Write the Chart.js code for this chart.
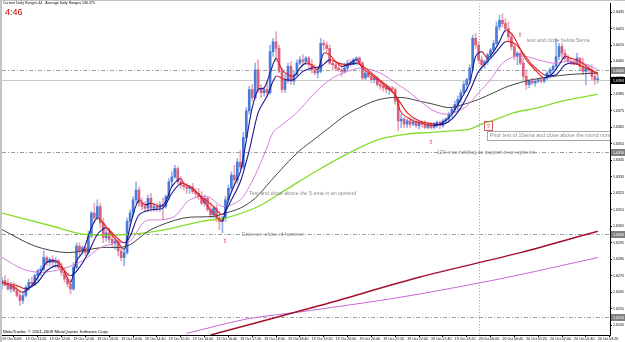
<!DOCTYPE html>
<html>
<head>
<meta charset="utf-8">
<script src="https://cdn.jsdelivr.net/npm/chart.js@4.4.1/dist/chart.umd.min.js"></script>
<style>
  html, body { margin: 0; padding: 0; background: #fff; }
  canvas { display: block; }
</style>
</head>
<body>
<canvas id="chart" width="625" height="342"></canvas>
<script>
// GBPUSD M5, bars 0..200 = 19 Oct 2009 10:40 -> 20 Oct 2009 03:20
const opens = [
  1.6270,1.6272,1.6269,1.6267,1.6269,1.6266,1.6263,1.6260,1.6263,1.6268,
  1.6271,1.6270,1.6275,1.6278,1.6279,1.6286,1.6283,1.6285,1.6283,1.6284,
  1.6280,1.6277,1.6273,1.6270,1.6267,1.6280,1.6293,1.6290,1.6292,1.6289,
  1.6299,1.6313,1.6310,1.6317,1.6307,1.6298,1.6301,1.6297,1.6295,1.6296,
  1.6290,1.6286,1.6289,1.6308,1.6313,1.6321,1.6327,1.6319,1.6317,1.6316,
  1.6322,1.6316,1.6317,1.6316,1.6318,1.6317,1.6323,1.6332,1.6335,1.6340,
  1.6332,1.6330,1.6329,1.6328,1.6329,1.6326,1.6325,1.6323,1.6319,1.6322,
  1.6315,1.6312,1.6316,1.6310,1.6308,1.6310,1.6321,1.6328,1.6336,1.6333,
  1.6344,1.6341,1.6359,1.6375,1.6388,1.6383,1.6400,1.6388,1.6386,1.6388,
  1.6386,1.6411,1.6417,1.6413,1.6399,1.6388,1.6394,1.6402,1.6393,1.6397,
  1.6404,1.6406,1.6405,1.6407,1.6403,1.6400,1.6398,1.6399,1.6416,1.6415,
  1.6413,1.6404,1.6403,1.6401,1.6400,1.6399,1.6401,1.6404,1.6403,1.6406,
  1.6407,1.6404,1.6395,1.6398,1.6396,1.6394,1.6395,1.6391,1.6390,1.6389,
  1.6388,1.6389,1.6388,1.6381,1.6369,1.6370,1.6367,1.6369,1.6367,1.6368,
  1.6366,1.6368,1.6367,1.6365,1.6367,1.6365,1.6367,1.6368,1.6366,1.6369,
  1.6370,1.6373,1.6376,1.6379,1.6382,1.6386,1.6391,1.6394,1.6401,1.6419,
  1.6415,1.6406,1.6403,1.6405,1.6409,1.6412,1.6416,1.6426,1.6430,1.6428,
  1.6425,1.6420,1.6414,1.6408,1.6410,1.6404,1.6396,1.6391,1.6393,1.6392,
  1.6393,1.6394,1.6393,1.6395,1.6398,1.6400,1.6402,1.6408,1.6414,1.6410,
  1.6407,1.6405,1.6404,1.6403,1.6407,1.6402,1.6399,1.6401,1.6400,1.6396,
  1.6394
];
const highs = [
  1.6274,1.6275,1.6273,1.6271,1.6271,1.6269,1.6266,1.6265,1.6269,1.6273,
  1.6274,1.6276,1.6279,1.6281,1.6290,1.6287,1.6286,1.6287,1.6286,1.6285,
  1.6283,1.6280,1.6276,1.6273,1.6283,1.6295,1.6295,1.6293,1.6293,1.6302,
  1.6314,1.6319,1.6321,1.6319,1.6310,1.6303,1.6304,1.6299,1.6298,1.6297,
  1.6292,1.6291,1.6310,1.6315,1.6323,1.6332,1.6329,1.6322,1.6320,1.6324,
  1.6325,1.6319,1.6319,1.6320,1.6322,1.6324,1.6334,1.6338,1.6342,1.6341,
  1.6335,1.6332,1.6331,1.6330,1.6331,1.6328,1.6328,1.6326,1.6324,1.6323,
  1.6319,1.6317,1.6318,1.6314,1.6311,1.6323,1.6330,1.6338,1.6342,1.6346,
  1.6351,1.6362,1.6377,1.6390,1.6391,1.6404,1.6406,1.6391,1.6389,1.6392,
  1.6415,1.6419,1.6423,1.6415,1.6401,1.6397,1.6404,1.6405,1.6399,1.6406,
  1.6408,1.6409,1.6408,1.6408,1.6406,1.6403,1.6401,1.6419,1.6418,1.6417,
  1.6415,1.6406,1.6405,1.6404,1.6403,1.6404,1.6406,1.6406,1.6407,1.6408,
  1.6408,1.6405,1.6400,1.6400,1.6398,1.6396,1.6396,1.6393,1.6392,1.6391,
  1.6390,1.6390,1.6389,1.6383,1.6373,1.6371,1.6370,1.6371,1.6370,1.6370,
  1.6369,1.6369,1.6369,1.6368,1.6368,1.6368,1.6369,1.6369,1.6370,1.6371,
  1.6374,1.6377,1.6381,1.6384,1.6388,1.6393,1.6395,1.6403,1.6421,1.6422,
  1.6417,1.6408,1.6406,1.6410,1.6413,1.6418,1.6429,1.6433,1.6434,1.6431,
  1.6429,1.6422,1.6416,1.6411,1.6411,1.6407,1.6399,1.6394,1.6395,1.6394,
  1.6395,1.6395,1.6395,1.6399,1.6401,1.6403,1.6419,1.6416,1.6416,1.6412,
  1.6409,1.6407,1.6406,1.6410,1.6407,1.6407,1.6403,1.6403,1.6403,1.6398,
  1.6397
];
const lows = [
  1.6267,1.6269,1.6266,1.6265,1.6265,1.6262,1.6257,1.6258,1.6262,1.6266,
  1.6268,1.6269,1.6272,1.6275,1.6278,1.6281,1.6281,1.6281,1.6280,1.6279,
  1.6275,1.6271,1.6268,1.6264,1.6266,1.6279,1.6287,1.6288,1.6287,1.6288,
  1.6298,1.6307,1.6309,1.6304,1.6295,1.6296,1.6295,1.6292,1.6291,1.6287,
  1.6284,1.6281,1.6288,1.6305,1.6311,1.6319,1.6317,1.6315,1.6314,1.6314,
  1.6314,1.6314,1.6314,1.6314,1.6309,1.6316,1.6321,1.6329,1.6334,1.6331,
  1.6328,1.6327,1.6325,1.6325,1.6325,1.6323,1.6321,1.6318,1.6317,1.6314,
  1.6310,1.6310,1.6308,1.6303,1.6301,1.6308,1.6319,1.6326,1.6330,1.6331,
  1.6339,1.6340,1.6358,1.6373,1.6381,1.6382,1.6386,1.6383,1.6384,1.6384,
  1.6385,1.6408,1.6405,1.6398,1.6386,1.6386,1.6392,1.6391,1.6391,1.6396,
  1.6403,1.6403,1.6403,1.6401,1.6398,1.6397,1.6395,1.6398,1.6412,1.6411,
  1.6403,1.6400,1.6400,1.6399,1.6396,1.6398,1.6400,1.6402,1.6403,1.6403,
  1.6403,1.6394,1.6394,1.6395,1.6392,1.6392,1.6390,1.6388,1.6387,1.6386,
  1.6385,1.6386,1.6379,1.6363,1.6365,1.6365,1.6365,1.6365,1.6366,1.6365,
  1.6364,1.6365,1.6364,1.6364,1.6364,1.6364,1.6365,1.6364,1.6365,1.6367,
  1.6368,1.6371,1.6374,1.6375,1.6380,1.6385,1.6387,1.6392,1.6400,1.6413,
  1.6404,1.6401,1.6401,1.6403,1.6407,1.6410,1.6415,1.6424,1.6426,1.6423,
  1.6418,1.6412,1.6406,1.6403,1.6403,1.6394,1.6388,1.6389,1.6391,1.6390,
  1.6392,1.6392,1.6392,1.6394,1.6395,1.6398,1.6400,1.6406,1.6407,1.6405,
  1.6404,1.6403,1.6403,1.6403,1.6400,1.6397,1.6391,1.6398,1.6394,1.6391,
  1.6392
];
const closes = [
  1.6272,1.6269,1.6267,1.6269,1.6266,1.6263,1.6260,1.6263,1.6268,1.6271,
  1.6270,1.6275,1.6278,1.6279,1.6286,1.6283,1.6285,1.6283,1.6284,1.6280,
  1.6277,1.6273,1.6270,1.6267,1.6280,1.6293,1.6290,1.6292,1.6289,1.6299,
  1.6313,1.6310,1.6317,1.6307,1.6298,1.6301,1.6297,1.6295,1.6296,1.6290,
  1.6286,1.6289,1.6308,1.6313,1.6321,1.6327,1.6319,1.6317,1.6316,1.6322,
  1.6316,1.6317,1.6316,1.6318,1.6317,1.6323,1.6332,1.6335,1.6340,1.6332,
  1.6330,1.6329,1.6328,1.6329,1.6326,1.6325,1.6323,1.6319,1.6322,1.6315,
  1.6312,1.6316,1.6310,1.6308,1.6310,1.6321,1.6328,1.6336,1.6333,1.6344,
  1.6341,1.6359,1.6375,1.6388,1.6383,1.6400,1.6388,1.6386,1.6388,1.6386,
  1.6411,1.6417,1.6413,1.6399,1.6388,1.6394,1.6402,1.6393,1.6397,1.6404,
  1.6406,1.6405,1.6407,1.6403,1.6400,1.6398,1.6399,1.6416,1.6415,1.6413,
  1.6404,1.6403,1.6401,1.6400,1.6399,1.6401,1.6404,1.6403,1.6406,1.6407,
  1.6404,1.6395,1.6398,1.6396,1.6394,1.6395,1.6391,1.6390,1.6389,1.6388,
  1.6389,1.6388,1.6381,1.6369,1.6370,1.6367,1.6369,1.6367,1.6368,1.6366,
  1.6368,1.6367,1.6365,1.6367,1.6365,1.6367,1.6368,1.6366,1.6369,1.6370,
  1.6373,1.6376,1.6379,1.6382,1.6386,1.6391,1.6394,1.6401,1.6419,1.6415,
  1.6406,1.6403,1.6405,1.6409,1.6412,1.6416,1.6426,1.6430,1.6428,1.6425,
  1.6420,1.6414,1.6408,1.6410,1.6404,1.6396,1.6391,1.6393,1.6392,1.6393,
  1.6394,1.6393,1.6395,1.6398,1.6400,1.6402,1.6408,1.6414,1.6410,1.6407,
  1.6405,1.6404,1.6403,1.6407,1.6402,1.6399,1.6401,1.6400,1.6396,1.6394,
  1.6394
];

// moving averages (bar index, value)
const ema5Idx = [0,4,7,10,13,15,18,20,23,25,27,30,32,34,36,39,41,42,44,46,48,50,53,55,57,60,61,64,67,70,73,74,76,78,80,82,84,86,88,90,92,94,96,98,100,102,104,106,108,110,112,114,116,119,121,124,128,130,132,134,138,140,145,148,151,154,157,159,161,163,165,167,169,171,173,176,180,182,185,187,189,191,194,197,200];
const ema5 = [1.6271,1.6268,1.6265,1.6269,1.6277,1.6283,1.6284,1.6281,1.6271,1.6284,1.6289,1.6304,1.6310,1.6307,1.6302,1.6295,1.6291,1.6297,1.6312,1.6321,1.6318,1.6319,1.6317,1.6320,1.6329,1.6334,1.6331,1.6328,1.6322,1.6315,1.6309,1.6308,1.6321,1.6330,1.6338,1.6357,1.6377,1.6388,1.6389,1.6398,1.6407,1.6400,1.6397,1.6396,1.6401,1.6404,1.6403,1.6400,1.6410,1.6409,1.6405,1.6402,1.6403,1.6406,1.6401,1.6397,1.6391,1.6388,1.6385,1.6374,1.6369,1.6368,1.6366,1.6368,1.6373,1.6382,1.6392,1.6408,1.6411,1.6407,1.6411,1.6417,1.6424,1.6422,1.6416,1.6406,1.6398,1.6395,1.6398,1.6403,1.6408,1.6407,1.6405,1.6401,1.6397];
const ema10Idx = [0,5,8,12,15,19,23,26,29,32,35,38,41,43,46,50,54,57,60,63,67,71,74,77,80,83,86,89,92,95,98,101,104,107,110,113,116,119,122,126,130,133,136,140,145,148,151,154,157,160,163,166,169,172,175,178,182,186,189,192,196,200];
const ema10 = [1.6271,1.6269,1.6267,1.6271,1.6278,1.6281,1.6275,1.6280,1.6289,1.6300,1.6304,1.6299,1.6295,1.6299,1.6312,1.6315,1.6316,1.6325,1.6331,1.6329,1.6323,1.6317,1.6312,1.6321,1.6332,1.6351,1.6374,1.6384,1.6396,1.6394,1.6394,1.6399,1.6401,1.6402,1.6406,1.6404,1.6403,1.6404,1.6401,1.6395,1.6389,1.6382,1.6374,1.6369,1.6367,1.6367,1.6370,1.6377,1.6387,1.6399,1.6405,1.6411,1.6417,1.6416,1.6410,1.6403,1.6397,1.6397,1.6403,1.6404,1.6401,1.6398];
const ma21Idx = [0,7,13,20,27,33,39,43,48,54,58,63,69,74,80,83,86,89,91,95,99,104,108,112,116,120,124,128,133,137,141,145,149,153,156,160,164,168,172,176,180,185,190,195,200];
const ma21 = [1.6286,1.6279,1.6277,1.6279,1.6284,1.6292,1.6295,1.6296,1.6308,1.6309,1.6311,1.6321,1.6323,1.6317,1.6321,1.6329,1.6340,1.6353,1.6362,1.6368,1.6374,1.6384,1.6391,1.6396,1.6399,1.6401,1.6400,1.6397,1.6391,1.6386,1.6380,1.6375,1.6373,1.6375,1.6378,1.6386,1.6394,1.6404,1.6408,1.6408,1.6406,1.6404,1.6405,1.6404,1.6400];
const ma60Idx = [0,11,22,33,42,50,61,71,75,80,85,90,95,100,105,110,115,120,125,130,135,140,145,150,155,160,165,170,178,190,200];
const ma60 = [1.6303,1.6293,1.6289,1.6292,1.6293,1.6303,1.6310,1.6311,1.6313,1.6316,1.6322,1.6332,1.6342,1.6351,1.6358,1.6365,1.6372,1.6377,1.6381,1.6383,1.6383,1.6381,1.6379,1.6377,1.6379,1.6382,1.6386,1.6390,1.6394,1.6397,1.6398];
const ma120Idx = [0,17,28,42,55,67,75,86,96,106,117,127,136,144,152,157,161,166,172,180,188,200];
const ma120 = [1.6313,1.6305,1.6300,1.6300,1.6303,1.6308,1.6310,1.6317,1.6328,1.6339,1.6350,1.6358,1.6361,1.6362,1.6363,1.6364,1.6367,1.6370,1.6374,1.6377,1.6381,1.6385];
const ma200Idx = [70,107,140,174,200];
const ma200 = [1.6239,1.6257,1.6274,1.6289,1.6302];
const ma365Idx = [62,83,100,134,167,200];
const ma365 = [1.6240,1.6249,1.6253,1.6262,1.6273,1.6286];

const priceTicks = [1.6245,1.6255,1.6265,1.6275,1.6285,1.6295,1.6305,1.6315,1.6325,1.6335,1.6345,1.6355,1.6365,1.6375,1.6385,1.6395,1.6405,1.6415,1.6425,1.6435];
const timeTicks = [0,8,16,24,32,40,48,56,64,72,80,88,96,104,112,120,128,136,144,152,160,168,176,184,192,200];
const timeLabels = ['19 Oct 2009','19 Oct 11:20','19 Oct 12:00','19 Oct 12:40','19 Oct 13:20','19 Oct 14:00','19 Oct 14:40','19 Oct 15:20','19 Oct 16:00','19 Oct 16:40','19 Oct 17:20','19 Oct 18:00','19 Oct 18:40','19 Oct 19:20','19 Oct 20:00','19 Oct 20:40','19 Oct 21:20','19 Oct 22:00','19 Oct 22:40','19 Oct 23:20','20 Oct 00:00','20 Oct 00:40','20 Oct 01:20','20 Oct 02:00','20 Oct 02:40','20 Oct 03:20'];
const roundLevels = [1.6400, 1.6350, 1.6300, 1.6250];
const bidPrice = 1.6394;
const dayStartIndex = 160;

// chart objects placed on the MT4 chart
const notes = [
  { text: 'test and close below 5ema', i: 176.2, p: 1.6418 },
  { text: 'Prior test of 10ema and close above the round number', i: 163.8, p: 1.6360, box: true },
  { text: '120 ema holding as support in an uptrend', i: 146.0, p: 1.6350 },
  { text: 'Test and close above the 5 ema in an uptrend', i: 82.9, p: 1.6325 },
  { text: 'Enter on  close of hammer', i: 80.6, p: 1.6300 }
];
const arrows = [
  { i: 173.9, p: 1.6421 },
  { i: 144.0, p: 1.6356 },
  { i: 74.9, p: 1.6296 }
];
const marker = { i: 163.0, p: 1.6366 };

const BULL = '#4b7bd8', BEAR = '#d8607e';
const BULL_WICK = '#93b2ea', BEAR_WICK = '#e9a6b6';
const UP = '#1a1a8c', DOWN = '#e02020';
const isBear = i => closes[i] < opens[i];
const pts = (idx, vals) => idx.map((x, k) => ({ x: x, y: vals[k] }));

function maLine(idx, vals, color, width, order) {
  return {
    type: 'line', data: pts(idx, vals), borderColor: color, borderWidth: width,
    pointRadius: 0, tension: 0.3, fill: false, order: order
  };
}
function emaLine(idx, vals, order) {
  const d = maLine(idx, vals, UP, 1.1, order);
  d.segment = { borderColor: c => c.p1.parsed.y < c.p0.parsed.y ? DOWN : UP };
  return d;
}

const mtPlugin = {
  id: 'mt4',
  beforeDraw(chart) {
    const { ctx, width, height } = chart;
    ctx.save();
    ctx.fillStyle = '#fff';
    ctx.fillRect(0, 0, width, height);
    ctx.fillStyle = '#c4c4c4';
    ctx.fillRect(0, 0, 2, height);
    ctx.fillRect(0, 0, width, 1);
    ctx.restore();
  },
  beforeDatasetsDraw(chart) {
    const { ctx, chartArea: a, scales: { x, y } } = chart;
    ctx.save();
    ctx.beginPath();
    ctx.rect(a.left, a.top, a.right - a.left, a.bottom - a.top);
    ctx.clip();
    ctx.lineWidth = 1;
    ctx.strokeStyle = '#9c9c9c';
    ctx.setLineDash([4, 2, 1, 2]);
    roundLevels.forEach(p => {
      const py = Math.round(y.getPixelForValue(p)) + 0.5;
      ctx.beginPath(); ctx.moveTo(a.left, py); ctx.lineTo(a.right, py); ctx.stroke();
    });
    ctx.setLineDash([1, 2]);
    const sx = Math.round(x.getPixelForValue(dayStartIndex)) + 0.5;
    ctx.beginPath(); ctx.moveTo(sx, a.top); ctx.lineTo(sx, a.bottom); ctx.stroke();
    ctx.setLineDash([]);
    ctx.strokeStyle = '#c8c8c8';
    const by = Math.round(y.getPixelForValue(bidPrice)) + 0.5;
    ctx.beginPath(); ctx.moveTo(a.left, by); ctx.lineTo(a.right, by); ctx.stroke();
    ctx.restore();
  },
  afterDatasetsDraw(chart) {
    const { ctx, chartArea: a, scales: { x, y } } = chart;
    ctx.save();
    ctx.beginPath();
    ctx.rect(a.left, a.top, a.right - a.left, a.bottom - a.top);
    ctx.clip();
    ctx.textBaseline = 'middle';
    ctx.textAlign = 'left';
    ctx.font = '5.3px "Liberation Sans", Arial, sans-serif';
    notes.forEach(n => {
      const px = x.getPixelForValue(n.i), py = y.getPixelForValue(n.p);
      ctx.fillStyle = '#8c8c8c';
      ctx.fillText(n.text, px, py);
      if (n.box) {
        const w = ctx.measureText(n.text).width;
        ctx.strokeStyle = '#a8a8a8';
        ctx.lineWidth = 1;
        ctx.strokeRect(Math.round(px) - 2.5, Math.round(py) - 4.5, Math.round(w) + 5, 9);
      }
    });
    ctx.fillStyle = '#d42a2a';
    ctx.textAlign = 'center';
    ctx.font = '6px "DejaVu Sans", sans-serif';
    arrows.forEach(r => {
      ctx.fillText('\u21e7', x.getPixelForValue(r.i), y.getPixelForValue(r.p));
    });
    const mx = Math.round(x.getPixelForValue(marker.i)), my = Math.round(y.getPixelForValue(marker.p));
    ctx.strokeStyle = '#d06060';
    ctx.strokeRect(mx - 3.5, my - 4.5, 8, 9);
    ctx.fillText('\u21e7', mx + 0.5, my);
    ctx.restore();
  },
  afterDraw(chart) {
    const { ctx, chartArea: a, scales: { y } } = chart;
    ctx.save();
    ctx.font = '3.6px "Liberation Sans", Arial, sans-serif';
    ctx.textBaseline = 'middle';
    ctx.textAlign = 'left';
    const tag = (p, bg) => {
      const py = Math.round(y.getPixelForValue(p));
      ctx.fillStyle = bg;
      ctx.fillRect(a.right + 1, py - 3, 14, 7);
      ctx.fillStyle = '#fff';
      ctx.fillText(p.toFixed(4), a.right + 3, py + 0.5);
    };
    roundLevels.forEach(p => tag(p, '#808080'));
    tag(bidPrice, '#000');
    ctx.fillStyle = '#000';
    ctx.textBaseline = 'top';
    ctx.fillText('Current Daily Ranges 44   Average Daily Ranges 136.375', 3, 1.5);
    ctx.font = '4.4px "Liberation Sans", Arial, sans-serif';
    ctx.textBaseline = 'middle';
    ctx.fillText('MetaTrader, \u00a9 2001-2009 MetaQuotes Software Corp.', 3, 331.5);
    ctx.fillStyle = '#c40000';
    ctx.font = '9px "Liberation Sans", Arial, sans-serif';
    ctx.textBaseline = 'top';
    ctx.fillText('4:46', 5, 8);
    ctx.restore();
  }
};

new Chart(document.getElementById('chart'), {
  type: 'bar',
  data: {
    datasets: [
      {
        type: 'bar', order: 20, grouped: false, barThickness: 1,
        data: lows.map((l, i) => ({ x: i, y: [l, highs[i]] })),
        backgroundColor: c => isBear(c.dataIndex) ? BEAR_WICK : BULL_WICK
      },
      {
        type: 'bar', order: 19, grouped: false, barThickness: 2, minBarLength: 1,
        data: opens.map((o, i) => ({ x: i, y: [o, closes[i]] })),
        backgroundColor: c => isBear(c.dataIndex) ? BEAR : BULL
      },
      maLine(ma365Idx, ma365, '#c46ad0', 1, 9),
      maLine(ma200Idx, ma200, '#a3102e', 1.5, 8),
      maLine(ma120Idx, ma120, '#86dc2c', 1.3, 7),
      maLine(ma60Idx, ma60, '#444444', 1, 6),
      maLine(ma21Idx, ma21, '#d47ed8', 1, 5),
      emaLine(ema10Idx, ema10, 4),
      emaLine(ema5Idx, ema5, 3)
    ]
  },
  options: {
    responsive: false,
    animation: false,
    devicePixelRatio: 1,
    layout: { padding: { left: 2, top: 1, right: 0, bottom: 0 } },
    plugins: { legend: { display: false }, tooltip: { enabled: false } },
    scales: {
      x: {
        type: 'linear', min: 0, max: 204.1, offset: false,
        grid: { display: true, drawOnChartArea: false, tickLength: 2, color: '#000' },
        border: { color: '#000', width: 1 },
        ticks: {
          align: 'start', autoSkip: false, maxRotation: 0, minRotation: 0, padding: 0,
          color: '#000', font: { family: 'Liberation Sans', size: 3.6 },
          callback: (v, k) => timeLabels[k]
        },
        afterBuildTicks: s => { s.ticks = timeTicks.map(v => ({ value: v })); },
        afterFit: s => { s.height = 7; }
      },
      y: {
        type: 'linear', position: 'right', min: 1.62390, max: 1.64404,
        grid: { display: true, drawOnChartArea: false, tickLength: 2, color: '#000' },
        border: { color: '#000', width: 1 },
        ticks: {
          padding: 1, color: '#000', font: { family: 'Liberation Sans', size: 3.6 },
          callback: v => v.toFixed(4)
        },
        afterBuildTicks: s => { s.ticks = priceTicks.map(v => ({ value: v })); },
        afterFit: s => { s.width = 15; }
      }
    }
  },
  plugins: [mtPlugin]
});
</script>
</body>
</html>
